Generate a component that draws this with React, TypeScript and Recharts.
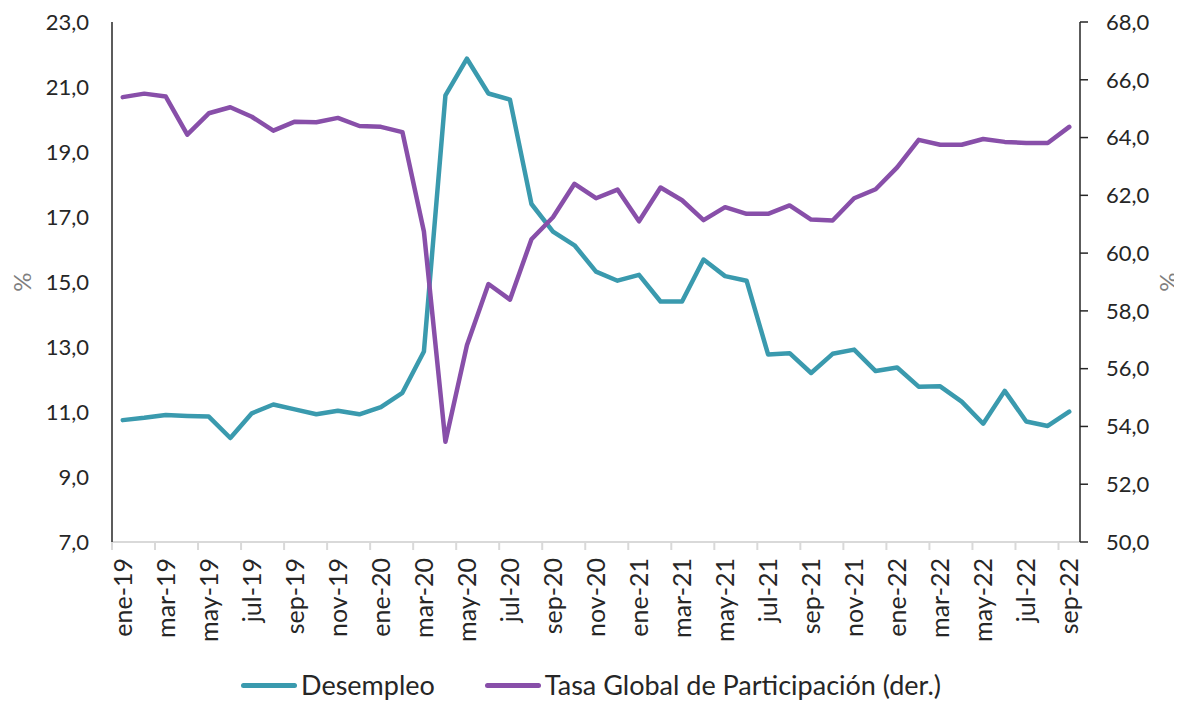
import { LineChart, Line, XAxis, YAxis, Legend } from 'recharts';

const MONTHS = [
  'ene-19', 'feb-19', 'mar-19', 'abr-19', 'may-19', 'jun-19', 'jul-19', 'ago-19', 'sep-19', 'oct-19', 'nov-19', 'dic-19',
  'ene-20', 'feb-20', 'mar-20', 'abr-20', 'may-20', 'jun-20', 'jul-20', 'ago-20', 'sep-20', 'oct-20', 'nov-20', 'dic-20',
  'ene-21', 'feb-21', 'mar-21', 'abr-21', 'may-21', 'jun-21', 'jul-21', 'ago-21', 'sep-21', 'oct-21', 'nov-21', 'dic-21',
  'ene-22', 'feb-22', 'mar-22', 'abr-22', 'may-22', 'jun-22', 'jul-22', 'ago-22', 'sep-22',
];

const DESEMPLEO = [
  10.75, 10.82, 10.91, 10.88, 10.86, 10.2, 10.96, 11.23, 11.08, 10.93, 11.04, 10.93,
  11.15, 11.59, 12.86, 20.74, 21.87, 20.8, 20.61, 17.4, 16.55, 16.13, 15.32, 15.04,
  15.22, 14.4, 14.4, 15.69, 15.18, 15.04, 12.77, 12.81, 12.2, 12.79, 12.92, 12.26,
  12.37, 11.78, 11.79, 11.32, 10.64, 11.65, 10.71, 10.57, 11.01,
];

const TGP = [
  65.4, 65.52, 65.42, 64.1, 64.84, 65.05, 64.72, 64.24, 64.55, 64.53, 64.68, 64.4,
  64.37, 64.19, 60.75, 53.47, 56.81, 58.93, 58.39, 60.48, 61.24, 62.4, 61.9, 62.2,
  61.1, 62.27, 61.83, 61.14, 61.59, 61.36, 61.36, 61.65, 61.16, 61.13, 61.9, 62.21,
  62.97, 63.92, 63.75, 63.75, 63.95, 63.85, 63.81, 63.81, 64.37,
];

const LEFT_TICKS = [7, 9, 11, 13, 15, 17, 19, 21, 23];
const RIGHT_TICKS = [50, 52, 54, 56, 58, 60, 62, 64, 66, 68];

const data = MONTHS.map((m, i) => ({ m, des: DESEMPLEO[i], tgp: TGP[i] }));

const TEAL = '#3a9aae';
const PURPLE = '#884fa9';
const TEXT = '#262626';
const FONT = 'Lato, sans-serif';

const WIDTH = 1174;
const HEIGHT = 693;
const LEFT_W = 104;
const RIGHT_W = 102;
const PLOT_W = WIDTH - LEFT_W - RIGHT_W;
const BAND = PLOT_W / MONTHS.length;

const fmt = (v: number) => v.toFixed(1).replace('.', ',');

function MonthTick({ x, y, payload }: { x: number; y: number; payload: { value: string } }) {
  return (
    <g>
      <line x1={x - BAND / 2} x2={x - BAND / 2} y1={y - 16} y2={y - 8} stroke="#d9d9d9" strokeWidth={2} />
      <text
        x={x}
        y={y}
        transform={`rotate(-90, ${x}, ${y})`}
        textAnchor="end"
        dy="0.36em"
        fontSize={25}
        fontFamily={FONT}
        fill={TEXT}
      >
        {payload.value}
      </text>
    </g>
  );
}

function PctLabel(side: 'left' | 'right') {
  return ({ viewBox }: { viewBox: { x: number; y: number; width: number; height: number } }) => {
    const cx = side === 'left' ? viewBox.x + 14 : viewBox.x + 88;
    const cy = viewBox.y + viewBox.height / 2;
    return (
      <text
        x={cx}
        y={cy}
        transform={`rotate(-90, ${cx}, ${cy})`}
        textAnchor="middle"
        dy="0.36em"
        fontSize={24}
        fontFamily={FONT}
        fill="#7f7f7f"
      >
        %
      </text>
    );
  };
}

const LEGEND_ITEMS = [
  { label: 'Desempleo', color: TEAL },
  { label: 'Tasa Global de Participación (der.)', color: PURPLE },
];

function LegendBox() {
  return (
    <div
      style={{
        height: 59,
        display: 'flex',
        justifyContent: 'center',
        alignItems: 'flex-end',
        gap: 50,
        paddingRight: 8,
        fontFamily: FONT,
        fontSize: 27,
        color: TEXT,
      }}
    >
      {LEGEND_ITEMS.map(it => (
        <div key={it.label} style={{ display: 'flex', alignItems: 'center', lineHeight: '32px' }}>
          <span
            style={{
              display: 'inline-block',
              width: 56,
              height: 5,
              borderRadius: 3,
              background: it.color,
              marginRight: 4,
            }}
          />
          {it.label}
        </div>
      ))}
    </div>
  );
}

export default function App() {
  return (
    <div style={{ width: WIDTH, height: HEIGHT, background: '#fff' }}>
      <LineChart width={WIDTH} height={HEIGHT} data={data} margin={{ top: 14, right: 0, bottom: 0, left: 0 }}>
        <XAxis
          dataKey="m"
          scale="band"
          interval={1}
          height={100}
          tickSize={8}
          tickMargin={8}
          tickLine={false}
          axisLine={{ stroke: '#d9d9d9', strokeWidth: 2 }}
          tick={MonthTick}
        />
        <YAxis
          yAxisId="left"
          width={LEFT_W}
          domain={[7, 23]}
          ticks={LEFT_TICKS}
          tickFormatter={fmt}
          tickSize={0}
          tickMargin={23}
          tickLine={false}
          axisLine={{ stroke: TEXT, strokeWidth: 1.5 }}
          tick={{ fill: TEXT, fontSize: 22, fontFamily: FONT }}
          label={PctLabel('left')}
        />
        <YAxis
          yAxisId="right"
          orientation="right"
          width={RIGHT_W}
          domain={[50, 68]}
          ticks={RIGHT_TICKS}
          tickFormatter={fmt}
          tickSize={8}
          tickMargin={18}
          tickLine={{ stroke: TEXT, strokeWidth: 1.5 }}
          axisLine={{ stroke: TEXT, strokeWidth: 1.5 }}
          tick={{ fill: TEXT, fontSize: 22, fontFamily: FONT }}
          label={PctLabel('right')}
        />
        <Legend verticalAlign="bottom" height={59} content={LegendBox} />
        <Line
          yAxisId="left"
          dataKey="des"
          stroke={TEAL}
          strokeWidth={4.5}
          dot={false}
          strokeLinejoin="round"
          strokeLinecap="round"
          isAnimationActive={false}
        />
        <Line
          yAxisId="right"
          dataKey="tgp"
          stroke={PURPLE}
          strokeWidth={4.5}
          dot={false}
          strokeLinejoin="round"
          strokeLinecap="round"
          isAnimationActive={false}
        />
      </LineChart>
    </div>
  );
}
